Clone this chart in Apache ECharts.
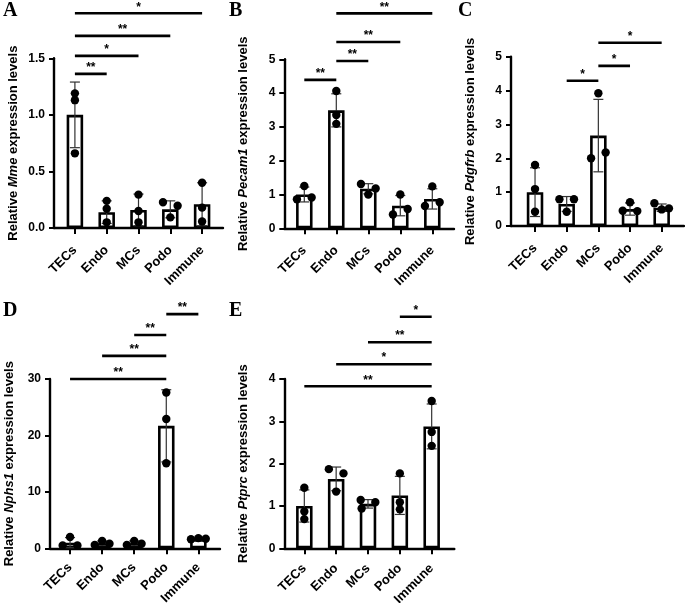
<!DOCTYPE html>
<html><head><meta charset="utf-8">
<script src="https://cdn.jsdelivr.net/npm/echarts@6/dist/echarts.min.js"></script>
<style>html,body{margin:0;padding:0;background:#fff}#c{width:685px;height:603px}</style>
</head><body><div id="c"></div>
<script>
// ---------------- DATA ----------------
const categories = ['TECs', 'Endo', 'MCs', 'Podo', 'Immune'];
const panelLetters = ['A', 'B', 'C', 'D', 'E'];
const genes = ['Mme', 'Pecam1', 'Pdgfrb', 'Nphs1', 'Ptprc'];

// y-axis tick settings per panel
const yMaxes = [1.5, 5, 5, 30, 4];
const yIntervals = [0.5, 1, 1, 10, 1];
const yDecimals = [1, 0, 0, 0, 0];

// Panel A (Mme)
const aMean = [1.0, 0.14, 0.16, 0.165, 0.21];
const aSD = [0.29, 0.10, 0.14, 0.075, 0.19];
const aDots = [[1.19, 1.13, 0.66], [0.24, 0.17, 0.05], [0.295, 0.15, 0.05], [0.227, 0.197, 0.094], [0.40, 0.18, 0.058]];
const aJitter = [[0, 0, 0], [0, 0, 0], [0, 0, 0], [-0.23, 0.23, 0], [0, 0, 0]];
const aSig = [[0, 1, 1.362, 2], [0, 2, 1.521, 1], [0, 3, 1.698, 2], [0, 4, 1.898, 1]];

// Panel B (Pecam1)
const bMean = [1.0, 3.49, 1.17, 0.67, 0.87];
const bSD = [0.22, 0.49, 0.15, 0.30, 0.30];
const bDots = [[1.25, 0.86, 0.91], [4.06, 3.35, 3.09], [1.31, 1.18, 1.0], [1.0, 0.41, 0.57], [1.24, 0.66, 0.77]];
const bJitter = [[0, -0.23, 0.23], [0, 0, 0], [-0.23, 0.23, 0], [0, -0.23, 0.23], [0, -0.23, 0.23]];
const bSig = [[0, 1, 4.39, 2], [1, 2, 4.95, 2], [1, 3, 5.51, 2], [1, 4, 6.36, 2]];

// Panel C (Pdgfrb)
const cMean = [1.0, 0.65, 2.67, 0.50, 0.54];
const cSD = [0.72, 0.22, 1.07, 0.18, 0.11];
const cDots = [[1.8, 1.09, 0.42], [0.79, 0.79, 0.42], [3.92, 2.0, 2.17], [0.7, 0.45, 0.44], [0.67, 0.52, 0.49]];
const cJitter = [[0, 0, 0], [-0.23, 0.23, 0], [0, -0.23, 0.23], [0, -0.23, 0.23], [-0.23, 0.23, 0]];
const cSig = [[1, 2, 4.29, 1], [2, 3, 4.73, 1], [2, 4, 5.41, 1]];

// Panel D (Nphs1)
const dMean = [1.0, 0.9, 0.9, 21.7, 1.6];
const dSD = [0.9, 0.4, 0.4, 6.4, 0.15];
const dDots = [[2.0, 0.5, 0.5], [1.3, 0.6, 0.8], [1.3, 0.6, 0.8], [27.6, 22.9, 15.06], [1.6, 1.8, 1.7]];
const dJitter = [[0, -0.23, 0.23], [0, -0.23, 0.23], [0, -0.23, 0.23], [0, 0, 0], [-0.23, 0, 0.23]];
const dSig = [[0, 3, 30.0, 2], [1, 3, 34.1, 2], [2, 3, 37.8, 2], [3, 4, 41.5, 2]];

// Panel E (Ptprc)
const eMean = [1.0, 1.64, 1.05, 1.25, 2.88];
const eSD = [0.38, 0.28, 0.10, 0.45, 0.53];
const eDots = [[1.43, 0.87, 0.69], [1.87, 1.77, 1.34], [1.14, 1.09, 0.94], [1.77, 1.09, 0.92], [3.48, 2.75, 2.42]];
const eJitter = [[0, 0, 0], [-0.23, 0.23, 0], [-0.23, 0.23, -0.2], [0, 0, 0], [0, 0, 0]];
const eSig = [[3, 4, 5.47, 1], [2, 4, 4.87, 2], [1, 4, 4.35, 1], [0, 4, 3.83, 2]];

// ---------------- LAYOUT ----------------
const layout = [
  { yAxisX: 54,    top: 58.3, height: 169.7, barLeft: 59,    barW: 159,   lineW: 169,   labMargin: 20, letter: [3, 1] },
  { yAxisX: 284.3, top: 59.3, height: 169,   barLeft: 288.3, barW: 160,   lineW: 169.7, labMargin: 20, letter: [229, 1] },
  { yAxisX: 511,   top: 56.7, height: 169.3, barLeft: 519.2, barW: 158.3, lineW: 173,   labMargin: 20, letter: [458, 1] },
  { yAxisX: 50,    top: 379,  height: 169.3, barLeft: 54,    barW: 160.4, lineW: 170,   labMargin: 17, letter: [3, 301] },
  { yAxisX: 284.3, top: 379,  height: 169.3, barLeft: 288.4, barW: 159.2, lineW: 170,   labMargin: 18, letter: [229, 301] }
];

const panelData = [
  [aMean, aSD, aDots, aJitter, aSig],
  [bMean, bSD, bDots, bJitter, bSig],
  [cMean, cSD, cDots, cJitter, cSig],
  [dMean, dSD, dDots, dJitter, dSig],
  [eMean, eSD, eDots, eJitter, eSig]
];

const FONT = '"Liberation Sans", Arial, sans-serif';
const AXW = 2.4;

function errRender(params, api) {
  const x = api.value(0), m = api.value(1), s = api.value(2);
  const t = api.coord([x, m + s]), b = api.coord([x, Math.max(0, m - s)]);
  const hw = 5, st = { stroke: '#333', lineWidth: 1.2 };
  return { type: 'group', children: [
    { type: 'line', shape: { x1: t[0], y1: t[1], x2: b[0], y2: b[1] }, style: st },
    { type: 'line', shape: { x1: t[0] - hw, y1: t[1], x2: t[0] + hw, y2: t[1] }, style: st },
    { type: 'line', shape: { x1: b[0] - hw, y1: b[1], x2: b[0] + hw, y2: b[1] }, style: st }
  ]};
}
function dotRender(params, api) {
  const p = api.coord([api.value(0), api.value(1)]);
  const bw = api.size([1, 0])[0];
  return { type: 'circle', shape: { cx: p[0] + api.value(2) * bw, cy: p[1], r: 4.2 }, style: { fill: '#000' } };
}
function sigRender(params, api) {
  const y = api.value(2);
  const p1 = api.coord([api.value(0), y]), p2 = api.coord([api.value(1), y]);
  return { type: 'group', children: [
    { type: 'line', shape: { x1: p1[0], y1: p1[1], x2: p2[0], y2: p2[1] }, style: { stroke: '#000', lineWidth: 2.6 } },
    { type: 'text', x: (p1[0] + p2[0]) / 2, y: p1[1] - 6,
      style: { text: '*'.repeat(api.value(3)), font: 'bold 12px ' + FONT, fill: '#000', align: 'center', verticalAlign: 'middle' } }
  ]};
}

const grid = [], xAxis = [], yAxis = [], series = [], graphic = [];
for (let p = 0; p < 5; p++) {
  const L = layout[p];
  const [mean, sd, dots, jit, sig] = panelData[p];
  const gBar = grid.length;
  grid.push({ left: L.barLeft, top: L.top, width: L.barW, height: L.height, outerBoundsMode: 'none', containLabel: false });
  const gLine = grid.length;
  grid.push({ left: L.yAxisX, top: L.top, width: L.lineW, height: L.height, outerBoundsMode: 'none', containLabel: false });

  const xi = xAxis.length;
  xAxis.push({
    type: 'category', gridIndex: gBar, data: categories,
    axisLine: { show: false },
    axisTick: { show: true, alignWithLabel: true, length: 6, lineStyle: { color: '#000', width: 2 } },
    axisLabel: { rotate: 45, margin: L.labMargin, color: '#000', fontFamily: FONT, fontWeight: 'bold', fontSize: 13,
      interval: 0, align: 'right', verticalAlign: 'middle' },
    splitLine: { show: false }
  });
  xAxis.push({
    type: 'value', gridIndex: gLine, min: 0, max: 1,
    axisLine: { show: true, lineStyle: { color: '#000', width: AXW } },
    axisTick: { show: false }, axisLabel: { show: false }, splitLine: { show: false }
  });
  const yi = yAxis.length;
  const dec = yDecimals[p];
  yAxis.push({
    type: 'value', gridIndex: gBar, min: 0, max: yMaxes[p], interval: yIntervals[p],
    offset: L.barLeft - L.yAxisX,
    name: 'Relative {i|' + genes[p] + '} expression levels',
    nameLocation: 'middle', nameGap: 34,
    nameTextStyle: { color: '#000', fontFamily: FONT, fontWeight: 'bold', fontSize: 13,
      rich: { i: { fontStyle: 'italic', fontWeight: 'bold', fontSize: 13, fontFamily: FONT, color: '#000' } } },
    axisLine: { show: true, lineStyle: { color: '#000', width: AXW } },
    axisTick: { show: true, length: 5, lineStyle: { color: '#000', width: 2 } },
    axisLabel: { color: '#000', fontFamily: FONT, fontWeight: 'bold', fontSize: 12, margin: 9,
      formatter: v => v.toFixed(dec) },
    splitLine: { show: false }
  });
  yAxis.push({ type: 'value', gridIndex: gLine, show: false, min: 0, max: 1 });

  series.push({
    type: 'bar', xAxisIndex: xi, yAxisIndex: yi, data: mean, barWidth: 16.5,
    itemStyle: { color: '#fff', borderColor: '#000', borderWidth: 2.6 }, silent: true
  });
  series.push({
    type: 'custom', xAxisIndex: xi, yAxisIndex: yi, renderItem: errRender, clip: false,
    encode: { x: 0, y: 1 }, data: mean.map((m, i) => [i, m, sd[i]]), silent: true, z: 3
  });
  const dotData = [];
  dots.forEach((arr, i) => arr.forEach((v, k) => dotData.push([i, v, jit[i][k]])));
  series.push({
    type: 'custom', xAxisIndex: xi, yAxisIndex: yi, renderItem: dotRender, clip: false,
    encode: { x: 0, y: 1 }, data: dotData, silent: true, z: 4
  });
  series.push({
    type: 'custom', xAxisIndex: xi, yAxisIndex: yi, renderItem: sigRender, clip: false,
    encode: { x: 0, y: 2 }, data: sig, silent: true, z: 5
  });

  graphic.push({ type: 'text', left: L.letter[0], top: L.letter[1],
    style: { text: panelLetters[p], font: 'bold 20px "Liberation Serif", "Times New Roman", serif', fill: '#000' } });
}

const chart = echarts.init(document.getElementById('c'), null, { renderer: 'canvas' });
chart.setOption({ animation: false, backgroundColor: '#fff', grid, xAxis, yAxis, series, graphic });
</script></body></html>
